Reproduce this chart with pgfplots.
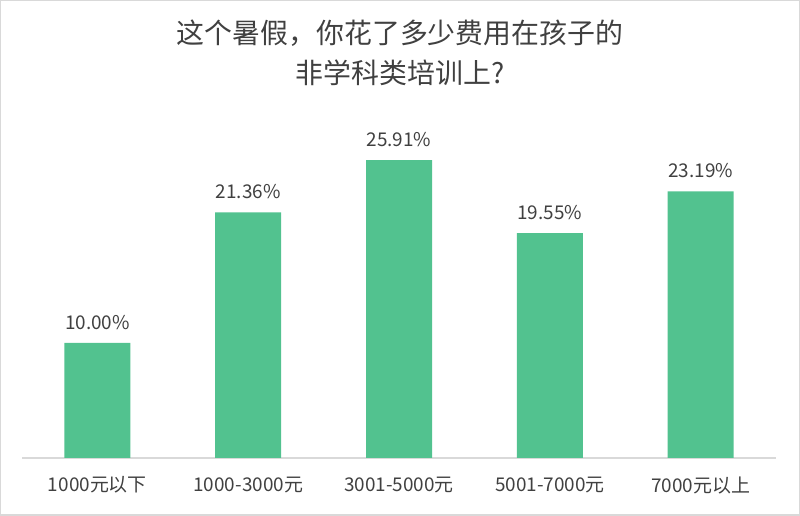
\documentclass[border=0pt]{standalone}
\usepackage{fontspec}
\usepackage{pgfplots}
\pgfplotsset{compat=1.18}
\setmainfont{Noto Sans CJK SC}
\definecolor{barg}{HTML}{52C28F}
\definecolor{txt}{HTML}{404040}
\definecolor{axl}{HTML}{D9D9D9}
\begin{document}
\begin{tikzpicture}[x=1bp,y=1bp]
\begin{axis}[
  at={(22bp,58bp)}, anchor=south west,
  scale only axis,
  width=754bp, height=358bp,
  xmin=-0.5, xmax=4.5, ymin=0, ymax=31.13,
  axis x line=bottom, axis y line=none,
  axis line style={axl, line width=1.2bp, -},
  xtick=data,
  xticklabels={1000元以下,1000-3000元,3001-5000元,5001-7000元,7000元以上},
  xtick style={draw=none},
  xticklabel style={font=\fontsize{19}{22}\selectfont, text=txt, yshift=-11bp},
  ytick=\empty,
  ybar, bar width=66bp,
  /pgf/number format/assume math mode=true,
  nodes near coords={\pgfmathprintnumber[fixed,fixed zerofill,precision=2,assume math mode=true]{\pgfplotspointmeta}\%},
  every node near coord/.append style={font=\fontsize{19}{22}\selectfont, text=txt, yshift=10bp},
  clip=false,
]
\addplot[fill=barg, draw=none] coordinates {(0,10.00) (1,21.36) (2,25.91) (3,19.55) (4,23.19)};
\end{axis}
\node[text=txt, font=\fontsize{28}{40}\selectfont, align=center] at (400,463) {这个暑假，你花了多少费用在孩子的\\非学科类培训上?};
\draw[axl, line width=1.5bp] (0.75,0.75) rectangle (799.25,515.25);
\path[use as bounding box] (0,0) rectangle (800,516);
\end{tikzpicture}
\end{document}
